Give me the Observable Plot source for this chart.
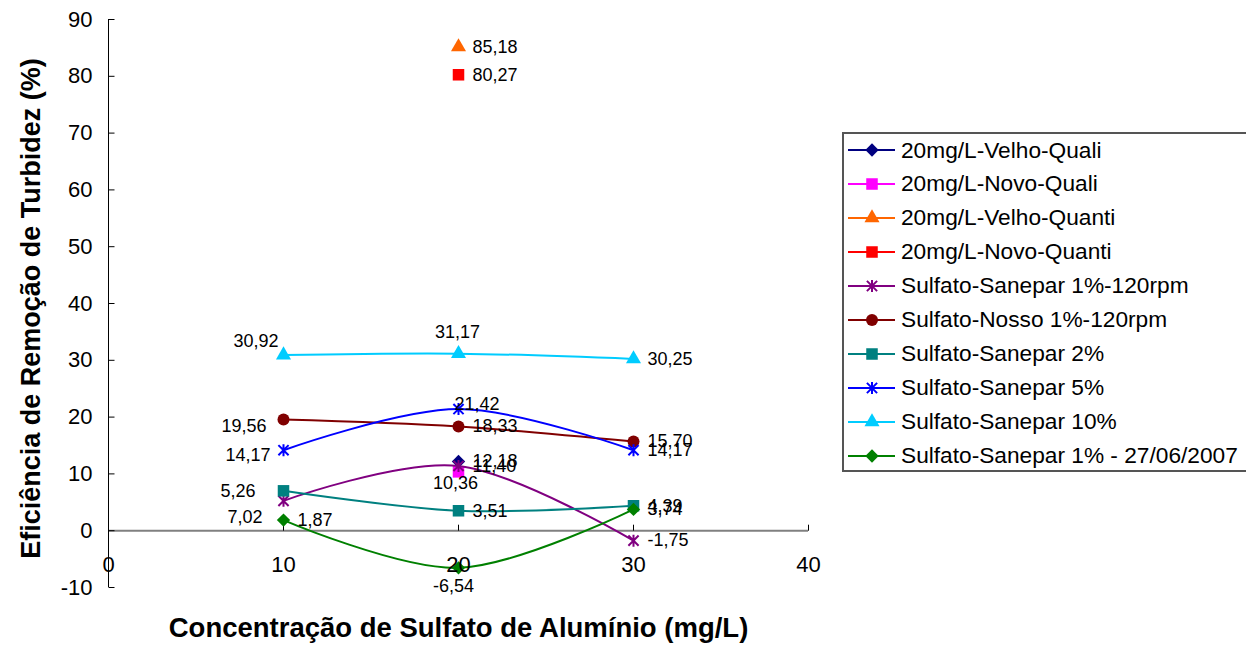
<!DOCTYPE html>
<html><head><meta charset="utf-8">
<script src="https://cdn.jsdelivr.net/npm/d3@7"></script>
<script src="https://cdn.jsdelivr.net/npm/@observablehq/plot@0.6"></script>
<style>
html,body{margin:0;padding:0;background:#fff;}
body{width:1246px;height:646px;position:relative;overflow:hidden;font-family:"Liberation Sans",Arial,sans-serif;}
#chart{position:absolute;left:0;top:0;}
#legend{position:absolute;left:842px;top:132px;width:430px;height:340px;border:2px solid #555;box-sizing:border-box;background:#fff;}
.lrow{position:absolute;left:0;height:34px;display:flex;align-items:center;white-space:nowrap;font-size:22.7px;color:#000;}
.lrow svg{display:block;flex:none;}
</style></head><body><div id="chart"></div><div id="legend"></div>
<script>
// ---- data ----
const xValues = [10, 20, 30];
const seriesNames = [
  "20mg/L-Velho-Quali",
  "20mg/L-Novo-Quali",
  "20mg/L-Velho-Quanti",
  "20mg/L-Novo-Quanti",
  "Sulfato-Sanepar 1%-120rpm",
  "Sulfato-Nosso 1%-120rpm",
  "Sulfato-Sanepar 2%",
  "Sulfato-Sanepar 5%",
  "Sulfato-Sanepar 10%",
  "Sulfato-Sanepar 1% - 27/06/2007"
];
const velhoQuali    = [null, 12.18, null];
const novoQuali     = [null, 10.36, null];
const velhoQuanti   = [null, 85.18, null];
const novoQuanti    = [null, 80.27, null];
const sanepar1rpm   = [5.26, 11.40, -1.75];
const nosso1rpm     = [19.56, 18.33, 15.70];
const sanepar2      = [7.02, 3.51, 4.39];
const sanepar5      = [14.17, 21.42, 14.17];
const sanepar10     = [30.92, 31.17, 30.25];
const sanepar1_2007 = [1.87, -6.54, 3.74];
const seriesValues = [velhoQuali, novoQuali, velhoQuanti, novoQuanti, sanepar1rpm, nosso1rpm, sanepar2, sanepar5, sanepar10, sanepar1_2007];
const xTicks = [0, 10, 20, 30, 40];
const yTicks = [-10, 0, 10, 20, 30, 40, 50, 60, 70, 80, 90];
const xTitle = "Concentração de Sulfato de Alumínio (mg/L)";
const yTitle = "Eficiência de Remoção de Turbidez (%)";

// ---- styles ----
const colors = ["#000080", "#FF00FF", "#FF6600", "#FF0000", "#800080", "#800000", "#008080", "#0000FF", "#00CCFF", "#008000"];
const symbolNames = ["diamond", "square", "triangle", "square", "star", "circle", "square", "star", "triangle", "diamond"];

const starSymbol = {draw(ctx, size) {
  const r = Math.sqrt(size / Math.PI), d = r * 0.85;
  ctx.moveTo(0, -r); ctx.lineTo(0, r);
  ctx.moveTo(-d, -d); ctx.lineTo(d, d);
  ctx.moveTo(-d, d); ctx.lineTo(d, -d);
}};
const tickUp = {draw(ctx) { ctx.moveTo(0, 0); ctx.lineTo(0, -6); }};
const tickRight = {draw(ctx) { ctx.moveTo(0, 0); ctx.lineTo(6, 0); }};
const symbolTypes = {diamond: d3.symbolDiamond2, square: d3.symbolSquare, triangle: d3.symbolTriangle, circle: d3.symbolCircle, star: starSymbol};
const symbolR = {diamond: 6, square: 6.5, triangle: 5.6, circle: 6, star: 6};

// label placement (relative to point)
const placements = {
  right:     {dx: 14,  dy: 0,   textAnchor: "start"},
  aboveLeft: {dx: -5,  dy: -14, textAnchor: "end"},
  above:     {dx: -1,  dy: -21, textAnchor: "middle"},
  leftA:     {dx: -17, dy: 7,   textAnchor: "end"},
  leftB:     {dx: -13, dy: 5,   textAnchor: "end"},
  over:      {dx: -4,  dy: -5,  textAnchor: "start"},
  below:     {dx: -3,  dy: 11,  textAnchor: "middle"},
  upLeft:    {dx: -28, dy: -10, textAnchor: "end"},
  downLeft:  {dx: -21, dy: 26,  textAnchor: "end"},
  under:     {dx: -5,  dy: 18,  textAnchor: "middle"}
};
const labelPlacement = {
  "8|10": "aboveLeft", "8|20": "above",
  "5|10": "leftA", "7|10": "leftB", "7|20": "over",
  "1|20": "below", "4|10": "upLeft", "6|10": "downLeft", "9|20": "under"
};

const fmt = d3.formatLocale({decimal: ",", thousands: ".", grouping: [3], currency: ["", ""], minus: "-"}).format(".2f");

const rows = [];
seriesValues.forEach((vals, si) => vals.forEach((v, xi) => {
  if (v != null) rows.push({si, series: seriesNames[si], x: xValues[xi], y: v,
    label: fmt(v), place: labelPlacement[si + "|" + xValues[xi]] || "right"});
}));

const font = "Liberation Sans, Arial, sans-serif";
const marks = [
  Plot.ruleY([0], {x1: 0, x2: 40, stroke: "#808080", strokeWidth: 2}),
  Plot.ruleX([0], {y1: -10, y2: 90, stroke: "#000", strokeWidth: 1}),
  Plot.dot(yTicks, {x: 0, y: d => d, symbol: tickRight, stroke: "#000", fill: "none", strokeWidth: 1}),
  Plot.dot(xTicks, {x: d => d, y: 0, symbol: tickUp, stroke: "#000", fill: "none", strokeWidth: 1}),
  Plot.axisY({ticks: yTicks, tickSize: 0, tickPadding: 16, fontSize: 22, label: null, tickFormat: d => String(d)})
];
seriesNames.forEach((name, si) => {
  const data = rows.filter(r => r.si === si);
  if (data.length > 1) marks.push(Plot.line(data, {x: "x", y: "y", stroke: colors[si], strokeWidth: 2, curve: "cardinal"}));
  const s = symbolNames[si];
  if (s === "star") marks.push(Plot.dot(data, {x: "x", y: "y", symbol: starSymbol, r: symbolR[s], stroke: colors[si], fill: "none", strokeWidth: 2}));
  else marks.push(Plot.dot(data, {x: "x", y: "y", symbol: symbolTypes[s], r: symbolR[s], fill: colors[si], stroke: "none"}));
});
marks.push(Plot.text(xTicks, {x: d => d, y: 0, text: d => String(d), dy: 34, fontSize: 22, fill: "#000"}));
Object.entries(placements).forEach(([key, p]) => {
  marks.push(Plot.text(rows.filter(r => r.place === key), {x: "x", y: "y", text: "label", fontSize: 18, fill: "#000", ...p}));
});
marks.push(Plot.text([xTitle], {frameAnchor: "bottom", dy: 49, fontSize: 27.5, fontWeight: "bold", fill: "#000"}));
marks.push(Plot.text([yTitle], {frameAnchor: "left", textAnchor: "middle", dx: -77, dy: 5, rotate: -90, fontSize: 27, fontWeight: "bold", fill: "#000"}));

const chart = Plot.plot({
  width: 1246, height: 646,
  marginLeft: 108, marginRight: 438, marginTop: 19, marginBottom: 59,
  x: {domain: [0, 40], axis: null},
  y: {domain: [-10, 90], axis: null},
  style: {fontFamily: font, color: "#000", background: "#fff", overflow: "visible"},
  marks
});
document.getElementById("chart").append(chart);

// legend
const legend = d3.select("#legend");
seriesNames.forEach((name, i) => {
  const row = legend.append("div").attr("class", "lrow").style("top", (-1 + i * 33.95) + "px");
  const svg = row.append("svg").attr("width", 57).attr("height", 34);
  svg.append("line").attr("x1", 4).attr("x2", 51).attr("y1", 17).attr("y2", 17).attr("stroke", colors[i]).attr("stroke-width", 2);
  const s = symbolNames[i], r = symbolR[s];
  const p = svg.append("path").attr("transform", "translate(28,17)")
    .attr("d", d3.symbol().type(symbolTypes[s]).size(r * r * Math.PI)());
  if (s === "star") p.attr("fill", "none").attr("stroke", colors[i]).attr("stroke-width", 2);
  else p.attr("fill", colors[i]);
  row.append("span").text(name);
});
</script>
</body></html>
